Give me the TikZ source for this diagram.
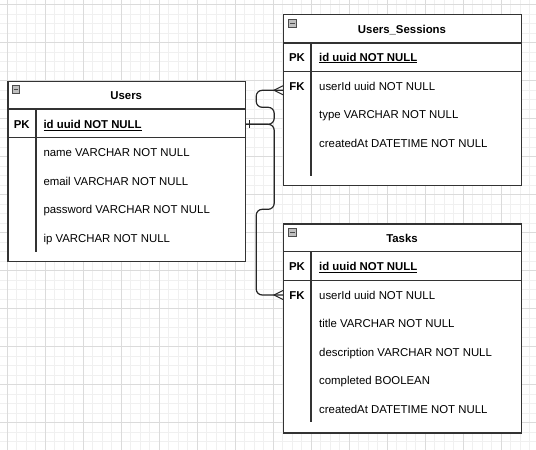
\documentclass[tikz,border=0pt]{standalone}
\usepackage{fontspec}
\setmainfont{Liberation Sans}
\usetikzlibrary{positioning}

\newcommand{\erfont}{\fontsize{11.4}{13.7}\selectfont}

\tikzset{
  minorgrid/.style={draw=black!6, line width=0.8pt},
  majorgrid/.style={draw=black!14, line width=0.8pt},
  tbl/.style={draw=black!80, line width=1.2pt, fill=white, anchor=north west, inner sep=0pt},
  tline/.style={draw=black!80, line width=1.2pt},
  txt/.style={font=\erfont, text height=8.2pt, text depth=0pt, inner sep=0pt},
  title/.style={txt, font=\erfont\bfseries},
  key/.style={txt, font=\erfont\bfseries},
  field/.style={txt, anchor=west},
  pkfield/.style={field, font=\erfont\bfseries},
  toggle/.style={draw=black!70, fill=black!25, minimum size=7.5pt, inner sep=0pt,
    anchor=north west, line width=0.6pt,
    path picture={\draw[line width=0.8pt] ([xshift=1.5pt]path picture bounding box.west)
      -- ([xshift=-1.5pt]path picture bounding box.east);}},
  rel/.style={draw=black!85, line width=1.2pt, rounded corners=6pt},
  tip/.style={draw=black!85, line width=1pt}
}

\begin{document}
\begin{tikzpicture}[x=1pt,y=-1pt]
  \useasboundingbox (0,0) rectangle (536,450);
  \fill[white] (0,0) rectangle (536,450);

  % grid
  \foreach \i in {-1,...,55}
    \draw[minorgrid] ({7.3+9.5*\i},0) -- ({7.3+9.5*\i},450);
  \foreach \j in {0,...,46}
    \draw[minorgrid] (0,{4.5+9.5*\j}) -- (536,{4.5+9.5*\j});
  \foreach \i in {0,...,13}
    \draw[majorgrid] ({7.3+38*\i},0) -- ({7.3+38*\i},450);
  \foreach \j in {0,...,11}
    \draw[majorgrid] (0,{4.5+38*\j}) -- (536,{4.5+38*\j});

  % Users
  \node[tbl, minimum width=237.7pt, minimum height=179.7pt] (users) at (7.3,81) {};
  \draw[tline] (7.3,109) -- (245,109);
  \draw[tline] (7.3,137.7) -- (245,137.7);
  \draw[tline] (36,109) -- (36,252);
  \node[toggle] (users-toggle) at (11.7,85) {};
  \node[title] (users-title) at (126.2,95.3) {Users};
  \node[key] (users-pk) at (21.7,124.3) {PK};
  \node[pkfield] (users-id) at (43.3,124.3) {\underline{id uuid NOT NULL}};
  \node[field] (users-name) at (43.3,152.3) {name VARCHAR NOT NULL};
  \node[field] (users-email) at (43.3,181) {email VARCHAR NOT NULL};
  \node[field] (users-password) at (43.3,209.3) {password VARCHAR NOT NULL};
  \node[field] (users-ip) at (43.3,238) {ip VARCHAR NOT NULL};

  % Users_Sessions
  \node[tbl, minimum width=238pt, minimum height=171pt] (sessions) at (283,14) {};
  \draw[tline] (283,43) -- (521,43);
  \draw[tline] (283,71.3) -- (521,71.3);
  \draw[tline] (311,43) -- (311,175.7);
  \node[toggle] (sessions-toggle) at (288.3,19.3) {};
  \node[title] (sessions-title) at (402,29) {Users\_Sessions};
  \node[key] (sessions-pk) at (297,57) {PK};
  \node[pkfield] (sessions-id) at (319,57) {\underline{id uuid NOT NULL}};
  \node[key] (sessions-fk) at (297,86.3) {FK};
  \node[field] (sessions-userid) at (319,86.3) {userId uuid NOT NULL};
  \node[field] (sessions-type) at (319,114.3) {type VARCHAR NOT NULL};
  \node[field] (sessions-created) at (319,143) {createdAt DATETIME NOT NULL};

  % Tasks
  \node[tbl, minimum width=238pt, minimum height=209pt] (tasks) at (283,223.3) {};
  \draw[tline] (283,251.7) -- (521,251.7);
  \draw[tline] (283,280.3) -- (521,280.3);
  \draw[tline] (311,251.7) -- (311,422.3);
  \node[toggle] (tasks-toggle) at (288.3,228.3) {};
  \node[title] (tasks-title) at (402,238.3) {Tasks};
  \node[key] (tasks-pk) at (297,266.3) {PK};
  \node[pkfield] (tasks-id) at (319,266.3) {\underline{id uuid NOT NULL}};
  \node[key] (tasks-fk) at (297,295) {FK};
  \node[field] (tasks-userid) at (319,295) {userId uuid NOT NULL};
  \node[field] (tasks-title-f) at (319,323.3) {title VARCHAR NOT NULL};
  \node[field] (tasks-description) at (319,352) {description VARCHAR NOT NULL};
  \node[field] (tasks-completed) at (319,380) {completed BOOLEAN};
  \node[field] (tasks-created) at (319,409) {createdAt DATETIME NOT NULL};

  % relations
  \draw[rel] (users.east |- users-id) -- ++(28,0) -- ++(0,-17) -- ++(-18,0)
    |- ([yshift=-4pt]sessions.west |- sessions-userid);
  \draw[rel] (users.east |- users-id) -- ++(28,0) -- ++(0,85) -- ++(-18,0)
    |- (tasks.west |- tasks-userid);
  \draw[tip] ([xshift=3pt]users.east |- users-id) ++(0,-4) -- ++(0,8);
  \draw[tip] ([yshift=-4pt]sessions.west |- sessions-userid) ++(0,-4.5) -- ++(-9,4.5) -- ++(9,4.5);
  \draw[tip] (tasks.west |- tasks-userid) ++(0,-4.5) -- ++(-9,4.5) -- ++(9,4.5);
\end{tikzpicture}
\end{document}
